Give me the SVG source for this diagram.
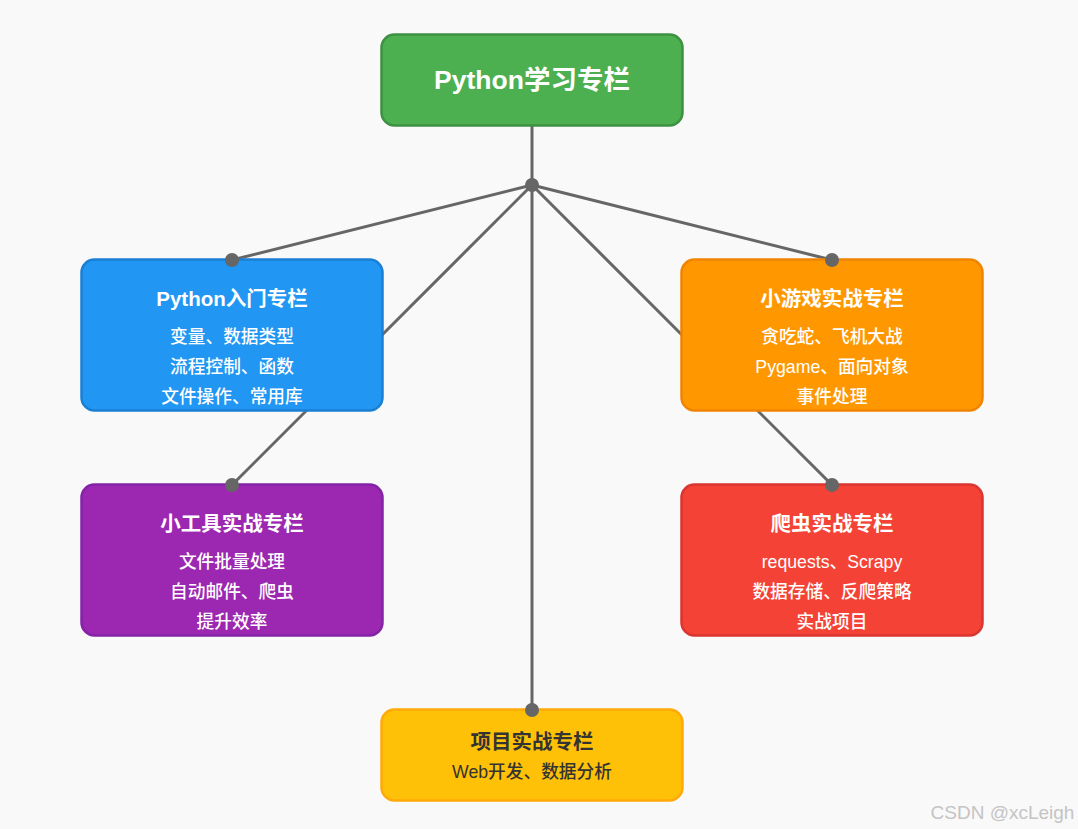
<svg xmlns="http://www.w3.org/2000/svg" width="1078" height="829" viewBox="0 0 1078 829">
<style>
text{font-family:"Liberation Sans","Noto Sans CJK SC",sans-serif;text-anchor:middle;fill:#fff}
.t{font-weight:bold;font-size:20.5px}
.s{font-size:17.7px;font-weight:500}
.big{font-weight:bold;font-size:26.5px}
.dk{fill:#333}
.box{stroke-width:2.5}
.ln{stroke:#666;stroke-width:3;fill:none}
.dot{fill:#666}
</style>
<rect width="1078" height="829" fill="#f9f9f9"/>
<g id="connectors">
<line class="ln" x1="532" y1="126" x2="532" y2="185"/>
<line class="ln" x1="532" y1="185" x2="232" y2="260"/>
<line class="ln" x1="532" y1="185" x2="832" y2="260"/>
<line class="ln" x1="532" y1="185" x2="232" y2="485"/>
<line class="ln" x1="532" y1="185" x2="832" y2="485"/>
<line class="ln" x1="532" y1="185" x2="532" y2="710"/>
</g>
<g id="root">
<rect class="box" x="381.5" y="34.5" width="301" height="91" rx="13" fill="#4CAF50" stroke="#3E9142"/>
<text class="big" x="532" y="89">Python学习专栏</text>
</g>
<g id="intro">
<rect class="box" x="81.5" y="259.5" width="301" height="151" rx="13" fill="#2196F3" stroke="#1B7FD4"/>
<text class="t" x="232" y="306">Python入门专栏</text>
<text class="s" x="232" y="343">变量、数据类型</text>
<text class="s" x="232" y="373">流程控制、函数</text>
<text class="s" x="232" y="403">文件操作、常用库</text>
</g>
<g id="game">
<rect class="box" x="681.5" y="259.5" width="301" height="151" rx="13" fill="#FF9800" stroke="#F08400"/>
<text class="t" x="832" y="306">小游戏实战专栏</text>
<text class="s" x="832" y="343">贪吃蛇、飞机大战</text>
<text class="s" x="832" y="373">Pygame、面向对象</text>
<text class="s" x="832" y="403">事件处理</text>
</g>
<g id="tools">
<rect class="box" x="81.5" y="484.5" width="301" height="151" rx="13" fill="#9C27B0" stroke="#8422A8"/>
<text class="t" x="232" y="531">小工具实战专栏</text>
<text class="s" x="232" y="568">文件批量处理</text>
<text class="s" x="232" y="598">自动邮件、爬虫</text>
<text class="s" x="232" y="628">提升效率</text>
</g>
<g id="spider">
<rect class="box" x="681.5" y="484.5" width="301" height="151" rx="13" fill="#F44336" stroke="#DA3530"/>
<text class="t" x="832" y="531">爬虫实战专栏</text>
<text class="s" x="832" y="568">requests、Scrapy</text>
<text class="s" x="832" y="598">数据存储、反爬策略</text>
<text class="s" x="832" y="628">实战项目</text>
</g>
<g id="project">
<rect class="box" x="381.5" y="709.5" width="301" height="91" rx="13" fill="#FFC107" stroke="#FFA90A"/>
<text class="t dk" x="532" y="749">项目实战专栏</text>
<text class="s dk" x="532" y="778">Web开发、数据分析</text>
</g>
<g id="dots">
<circle class="dot" cx="532" cy="185" r="7"/>
<circle class="dot" cx="232" cy="260" r="7"/>
<circle class="dot" cx="832" cy="260" r="7"/>
<circle class="dot" cx="232" cy="485" r="7"/>
<circle class="dot" cx="832" cy="485" r="7"/>
<circle class="dot" cx="532" cy="710" r="7"/>
</g>
<text x="1002.5" y="819" style="font-size:19px;fill:#c4c4c4">CSDN @xcLeigh</text>
</svg>
